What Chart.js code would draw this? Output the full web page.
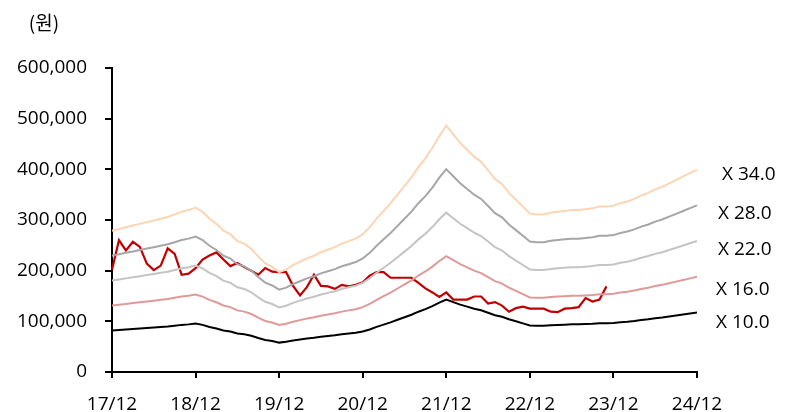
<!DOCTYPE html>
<html>
<head>
<meta charset="utf-8">
<script src="https://cdn.jsdelivr.net/npm/chart.js@4.4.0/dist/chart.umd.min.js"></script>
<style>
  html, body { margin: 0; padding: 0; background: #fff; }
  #wrap { width: 792px; height: 412px; position: relative; }
</style>
</head>
<body>
<div id="wrap"><canvas id="c" width="792" height="412"></canvas></div>
<script>
// ---- data ----
const startYear = 17;                 // 17/12 .. 24/12, monthly
const tickLabels = ['17/12','18/12','19/12','20/12','21/12','22/12','23/12','24/12'];
const bandMult = [34, 28, 22, 16, 10];  // PER multiples
// 12M forward EPS (won), monthly
const eps = [
  8200, 8300, 8400, 8500, 8600, 8700, 8800, 8900, 9000, 9150, 9300, 9400, 9550,
  9300, 8900, 8600, 8200, 8000, 7600, 7450, 7150, 6700, 6300, 6100, 5800,
  5950, 6200, 6400, 6600, 6750, 6950, 7100, 7250, 7450, 7600, 7750, 8000,
  8400, 8900, 9350, 9800, 10300, 10800, 11300, 11900, 12400, 13000, 13700, 14300,
  13800, 13300, 12900, 12500, 12200, 11700, 11200, 10900, 10400, 10000, 9600, 9200,
  9150, 9150, 9250, 9300, 9350, 9400, 9400, 9450, 9500, 9600, 9600, 9650,
  9800, 9900, 10050, 10250, 10400, 10600, 10750, 10950, 11150, 11350, 11550, 11750
];
// share price (won), monthly
const price = [
  202000, 260000, 240000, 257000, 247000, 214000, 201000, 210000, 244000, 233000, 192000, 194000, 205000,
  222000, 230000, 236000, 222000, 209000, 215000, 207000, 200000, 192000, 205000, 198000, 197000,
  197000, 170000, 151000, 168000, 192000, 170000, 169000, 164000, 172000, 169000, 172000, 177000,
  190000, 197000, 197000, 186000, 186000, 186000, 186000, 176000, 165000, 157000, 148000, 157000,
  143000, 143000, 143000, 149000, 149000, 135000, 138000, 131000, 119000, 126000, 129000, 125000,
  125000, 125000, 119000, 118000, 125000, 126000, 128000, 146000, 139000, 143000, 169000
];
const bandColors = ['#FCD5B4', '#A6A6A6', '#C4C4C4', '#DE9A98', '#000000'];
const yTicks = [0, 100000, 200000, 300000, 400000, 500000, 600000];

// month labels
const months = [];
for (let i = 0; i < eps.length; i++) {
  const m = (11 + i) % 12 + 1;
  const y = startYear + Math.floor((11 + i) / 12);
  months.push(String(y).padStart(2, '0') + '/' + String(m).padStart(2, '0'));
}

const datasets = bandMult.map((k, j) => ({
  label: 'X ' + k.toFixed(1),
  data: eps.map(v => v * k),
  borderColor: bandColors[j],
  borderWidth: 2,
  pointRadius: 0,
  tension: 0,
  fill: false
}));
datasets.push({
  label: '주가',
  data: price,
  borderColor: '#C00000',
  borderWidth: 2.2,
  pointRadius: 0,
  tension: 0,
  fill: false
});

const FONT = '"Open Sans", "Noto Sans CJK KR", sans-serif';

const annot = {
  id: 'annot',
  afterDraw(chart) {
    const ctx = chart.ctx;
    const ys = chart.scales.y;
    const area = chart.chartArea;
    ctx.save();
    ctx.fillStyle = '#000';
    ctx.font = '19px ' + FONT;
    ctx.textBaseline = 'middle';
    ctx.textAlign = 'left';
    const offs = [5, 8, 9, 13, 10];
    const xs = [25, 21, 21, 19, 19];
    bandMult.forEach((k, j) => {
      const last = eps[eps.length - 1] * k;
      ctx.fillText('X ' + k.toFixed(1), area.right + xs[j], ys.getPixelForValue(last) + offs[j]);
    });
    ctx.font = '19px "Noto Sans CJK KR", sans-serif';
    ctx.textAlign = 'center';
    ctx.fillText('(원)', 44, 23);
    ctx.restore();
  }
};

new Chart(document.getElementById('c'), {
  type: 'line',
  data: { labels: months, datasets },
  options: {
    responsive: false,
    animation: false,
    devicePixelRatio: 1,
    layout: { padding: { left: 0, right: 95, top: 68, bottom: 0 } },
    plugins: { legend: { display: false }, tooltip: { enabled: false } },
    scales: {
      x: {
        type: 'category',
        offset: false,
        border: { display: true, color: '#000', width: 2 },
        grid: {
          display: true, drawOnChartArea: false, drawTicks: true,
          tickLength: 6, color: '#000', lineWidth: 2
        },
        ticks: {
          autoSkip: false, maxRotation: 0, minRotation: 0,
          color: '#000', font: { size: 19, family: FONT }, padding: 15,
          callback: (v, i) => (i % 12 === 0 ? tickLabels[i / 12] : null)
        },
        afterFit(s) { s.height = 40; }
      },
      y: {
        min: 0, max: 600000,
        border: { display: true, color: '#000', width: 2 },
        grid: {
          display: true, drawOnChartArea: false, drawTicks: true,
          tickLength: 7, color: '#000', lineWidth: 2
        },
        afterBuildTicks(s) { s.ticks = yTicks.map(v => ({ value: v })); },
        ticks: {
          color: '#000', font: { size: 19, family: FONT }, padding: 18,
          callback: v => v.toLocaleString('en-US')
        },
        afterFit(s) { s.width = 112; }
      }
    }
  },
  plugins: [annot]
});
</script>
</body>
</html>
